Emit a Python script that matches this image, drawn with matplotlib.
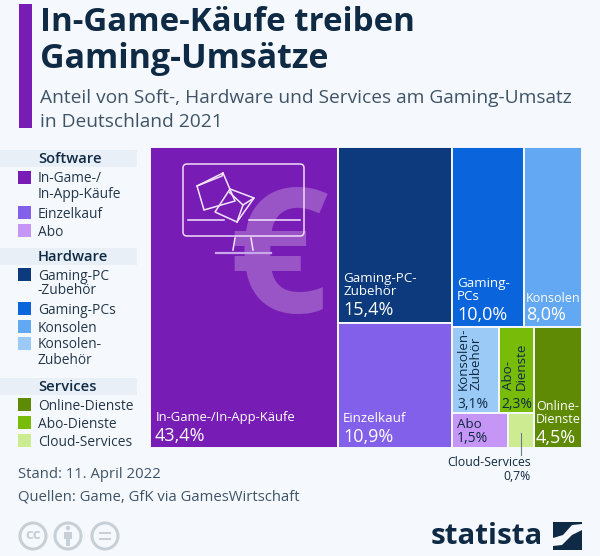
import matplotlib
matplotlib.use('Agg')
import matplotlib.pyplot as plt
from matplotlib.patches import Rectangle, FancyBboxPatch, Circle, Polygon

plt.rcParams['font.family'] = ['Open Sans', 'DejaVu Sans']

# shares in percent, as printed in the chart
in_game = 43.4
pc_zubehoer = 15.4
einzelkauf = 10.9
gaming_pcs = 10.0
konsolen = 8.0
konsolen_zubehoer = 3.1
abo_dienste = 2.3
abo = 1.5
cloud = 0.7
online = 4.5

legend_software = ['In-Game-/\nIn-App-Käufe', 'Einzelkauf', 'Abo']
legend_hardware = ['Gaming-PC\n-Zubehör', 'Gaming-PCs', 'Konsolen', 'Konsolen-\nZubehör']
legend_services = ['Online-Dienste', 'Abo-Dienste', 'Cloud-Services']

BG = '#f5f8fc'
DARK = '#0f2a44'
TEXT = '#3f5468'
PURPLE = '#771cb4'
C = {'game': PURPLE, 'einzel': '#8360ea', 'abo': '#c596f5',
     'pcz': '#0c3a7c', 'pcs': '#0a65dc', 'kons': '#62a8f2', 'konz': '#9ccaf6',
     'online': '#5f8a05', 'abod': '#78bb08', 'cloud': '#cdec92'}

fig = plt.figure(figsize=(6, 5.56), dpi=100, facecolor=BG)

# treemap axes, one unit of area per percent
tx0, tx1, ty0, ty1 = 150, 582, 147, 448
tm = fig.add_axes([tx0 / 600, 1 - ty1 / 556, (tx1 - tx0) / 600, (ty1 - ty0) / 556], zorder=1)
tm.set_xlim(0, 100)
tm.set_ylim(100, 0)
tm.axis('off')

# pixel axes for everything around and on top of the treemap
bg = fig.add_axes([0, 0, 1, 1], zorder=2)
bg.set_xlim(0, 600)
bg.set_ylim(556, 0)
bg.axis('off')
bg.patch.set_alpha(0)


def cell(x, y, w, h, color):
    tm.add_patch(Rectangle((x, y), w, h, facecolor=color, edgecolor=BG, lw=1.4))


# columns
total = in_game + pc_zubehoer + einzelkauf + gaming_pcs + konsolen + konsolen_zubehoer \
    + abo_dienste + abo + cloud + online
scale = 100 / total
w_game = in_game * scale
cell(0, 0, w_game, 100, C['game'])

col2 = pc_zubehoer + einzelkauf
w2 = col2 * scale
h_pcz = 100 * pc_zubehoer / col2
cell(w_game, 0, w2, h_pcz, C['pcz'])
cell(w_game, h_pcz, w2, 100 - h_pcz, C['einzel'])

x3 = w_game + w2
col3 = gaming_pcs + konsolen + konsolen_zubehoer + abo_dienste + abo + cloud + online
w3 = col3 * scale
top3 = gaming_pcs + konsolen
h_top = 100 * top3 / col3
w_pcs = w3 * gaming_pcs / top3
cell(x3, 0, w_pcs, h_top, C['pcs'])
cell(x3 + w_pcs, 0, w3 - w_pcs, h_top, C['kons'])

rest = col3 - top3
w_on = w3 * online / rest
cell(x3 + w3 - w_on, h_top, w_on, 100 - h_top, C['online'])
w_sm = w3 - w_on
upper = konsolen_zubehoer + abo_dienste
h_up = (100 - h_top) * upper / (upper + abo + cloud)
w_kz = w_sm * konsolen_zubehoer / upper
cell(x3, h_top, w_kz, h_up, C['konz'])
cell(x3 + w_kz, h_top, w_sm - w_kz, h_up, C['abod'])
w_abo = w_sm * abo / (abo + cloud)
cell(x3, h_top + h_up, w_abo, 100 - h_top - h_up, C['abo'])
cell(x3 + w_abo, h_top + h_up, w_sm - w_abo, 100 - h_top - h_up, C['cloud'])


def pct(v):
    return f'{v:.1f}%'.replace('.', ',')


# title block
bg.add_patch(Rectangle((19, 4), 13, 124, color=PURPLE, lw=0))
bg.text(40, 22.5, 'In-Game-Käufe treiben', fontsize=23.8, fontweight='bold', color=DARK, va='center')
bg.text(40, 59, 'Gaming-Umsätze', fontsize=24.5, fontweight='bold', color=DARK, va='center')
bg.text(40, 98, 'Anteil von Soft-, Hardware und Services am Gaming-Umsatz', fontsize=13.8, color=TEXT, va='center')
bg.text(40, 122, 'in Deutschland 2021', fontsize=13.8, color=TEXT, va='center')


# legend
def legend_head(y, label):
    bg.add_patch(Rectangle((0, y - 8.5), 137, 17, color='#e9eff7', lw=0))
    bg.text(38, y + 1, label, fontsize=10.6, fontweight='semibold', color=DARK, va='center')


def legend_item(y, label, color):
    bg.add_patch(Rectangle((18, y - 6.5), 12.5, 13, color=color, lw=0))
    bg.text(38, y - 5.5, label, fontsize=9.9, color='#24384c', va='top', linespacing=1.0)


legend_head(158, 'Software')
for y, label, key in zip([177, 212, 230], legend_software, ['game', 'einzel', 'abo']):
    legend_item(y, label, C[key])
legend_head(256, 'Hardware')
for y, label, key in zip([274, 308, 326, 343], legend_hardware, ['pcz', 'pcs', 'kons', 'konz']):
    legend_item(y, label, C[key])
legend_head(386, 'Services')
for y, label, key in zip([404, 422, 440], legend_services, ['online', 'abod', 'cloud']):
    legend_item(y, label, C[key])

# icon inside the big cell
bg.text(278, 266, '€', fontsize=126, fontweight='bold', color='white', alpha=0.25,
        ha='center', va='center', zorder=3)
bg.add_patch(FancyBboxPatch((186, 167), 115, 66, boxstyle='round,pad=3,rounding_size=4',
                            fill=False, ec='#f0dcfa', lw=1.1, zorder=4))
ic = dict(color='#f3e6fb', lw=1.1, zorder=4)
bg.plot([188, 224], [220, 220], **ic)
bg.plot([249, 300], [220, 220], **ic)
bg.plot([216, 271], [253, 253], color='#c9a5ea', lw=1.6, zorder=4)
bg.plot([235, 233], [238, 250], **ic)
bg.plot([251, 253], [238, 250], **ic)
bg.add_patch(Polygon([(197, 186), (223, 173), (235, 201), (204, 210)], fill=False, ec='#f3e6fb', lw=1.1, zorder=4))
bg.plot([197, 222, 223], [186, 176, 173], **ic)
bg.add_patch(Polygon([(230, 189), (254, 198), (237, 222), (215, 212)], fill=False, ec='#f3e6fb', lw=1.1, zorder=4))
bg.plot([229, 243, 237], [192, 205, 222], **ic)
bg.plot([243, 254], [205, 198], **ic)

# cell labels
white = 'white'
bg.text(156, 418, 'In-Game-/In-App-Käufe', fontsize=9.4, color=white, va='center', zorder=5)
bg.text(155, 436, pct(in_game), fontsize=13, color=white, va='center', zorder=5)
bg.text(343, 285, 'Gaming-PC-\nZubehör', fontsize=9.6, color=white, va='center', linespacing=1.05, zorder=5)
bg.text(343, 310, pct(pc_zubehoer), fontsize=13, color=white, va='center', zorder=5)
bg.text(343, 419, 'Einzelkauf', fontsize=9.6, color=white, va='center', zorder=5)
bg.text(343, 437, pct(einzelkauf), fontsize=13, color=white, va='center', zorder=5)
bg.text(457, 290, 'Gaming-\nPCs', fontsize=9.6, color=white, va='center', linespacing=1.05, zorder=5)
bg.text(457, 315, pct(gaming_pcs), fontsize=13, color=white, va='center', zorder=5)
bg.text(526, 298, 'Konsolen', fontsize=9, color=white, va='center', zorder=5)
bg.text(526, 315, pct(konsolen), fontsize=13, color=white, va='center', zorder=5)
bg.text(470, 390, 'Konsolen-\nZubehör', fontsize=9.6, color=DARK, rotation=90, ha='center', va='bottom',
        linespacing=1.0, multialignment='left', zorder=5)
bg.text(457, 404, pct(konsolen_zubehoer), fontsize=10, color=DARK, va='center', zorder=5)
bg.text(515, 390, 'Abo-\nDienste', fontsize=9.6, color=DARK, rotation=90, ha='center', va='bottom',
        linespacing=1.0, multialignment='left', zorder=5)
bg.text(501, 404, pct(abo_dienste), fontsize=10, color=DARK, va='center', zorder=5)
bg.text(457, 425, 'Abo', fontsize=9.6, color=DARK, va='center', zorder=5)
bg.text(457, 439, pct(abo), fontsize=10, color=DARK, va='center', zorder=5)
bg.text(536, 413, 'Online-\nDienste', fontsize=9, color=white, va='center', linespacing=1.05, zorder=5)
bg.text(536, 438, pct(online), fontsize=13, color=white, va='center', zorder=5)

# outside label for the smallest cell
bg.plot([521, 521], [433, 455], color='#6b7a88', lw=0.8, zorder=5)
bg.text(531, 463, 'Cloud-Services', fontsize=8.8, color=DARK, ha='right', va='center', fontweight='medium')
bg.text(531, 476, pct(cloud), fontsize=8.8, color=DARK, ha='right', va='center', fontweight='medium')

# footer
bg.text(18, 475, 'Stand: 11. April 2022', fontsize=10.7, color=TEXT, va='center')
bg.text(18, 497, 'Quellen: Game, GfK via GamesWirtschaft', fontsize=10.7, color=TEXT, va='center')

# licence icons
icon_grey = '#c6d0d6'
for cx in [33, 68, 105]:
    bg.add_patch(Circle((cx, 536), 13, fill=False, ec=icon_grey, lw=2.2))
bg.text(33, 535, 'cc', fontsize=11, fontweight='bold', color=icon_grey, ha='center', va='center')
bg.add_patch(Circle((68, 528), 2.2, color=icon_grey, lw=0))
bg.add_patch(Rectangle((64, 532), 8, 7, color=icon_grey, lw=0))
bg.add_patch(Rectangle((66, 539), 4, 7, color=icon_grey, lw=0))
bg.add_patch(Rectangle((99, 532), 12, 2.4, color=icon_grey, lw=0))
bg.add_patch(Rectangle((99, 538), 12, 2.4, color=icon_grey, lw=0))

# logo
bg.text(543, 537, 'statista', fontsize=21.2, fontweight='bold', color=DARK, ha='right', va='center')
bg.add_patch(Polygon([(553, 522), (582, 522), (582, 524), (572, 525), (563, 535), (553, 538)], color=DARK, lw=0))
bg.add_patch(Polygon([(582, 530), (582, 550), (553, 550), (553, 546), (562, 545), (572, 535)], color=DARK, lw=0))

fig.savefig('out.png', dpi=100, facecolor=BG)
